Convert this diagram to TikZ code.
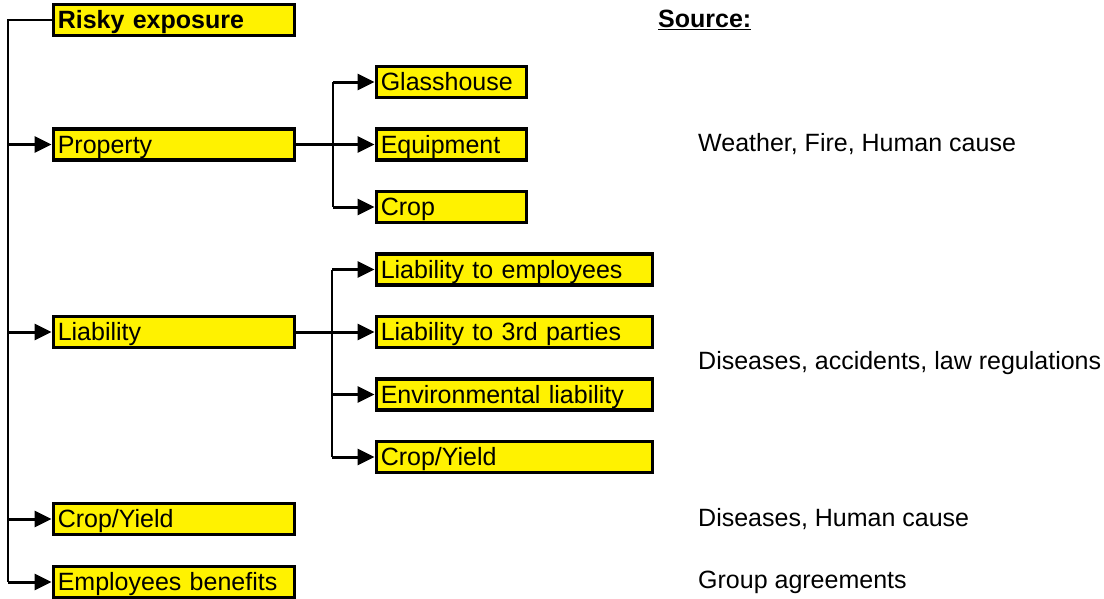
\documentclass[tikz,border=0pt]{standalone}
\usepackage{fontspec}
\setmainfont{Liberation Sans}
\usetikzlibrary{arrows.meta}
\begin{document}
\begin{tikzpicture}[x=1pt,y=-1pt,
  font=\fontsize{25}{30}\selectfont,
  box/.style={draw=black, fill=yellow, line width=3.5pt, minimum height=31pt,
    inner xsep=4.5pt, inner ysep=0pt, align=left, anchor=west,
    text height=20pt, text depth=3pt},
  bw/.style={text width=232pt},
  sw/.style={text width=141pt},
  lw/.style={text width=267pt},
  arr/.style={line width=3pt, -{Triangle[length=17pt,width=16pt]}},
  trunk/.style={line width=2pt},
  hbar/.style={line width=3pt},
  src/.style={anchor=west, inner sep=0pt}]
\useasboundingbox (0,0) rectangle (1104,598);
% main column
\node[box,bw,font=\fontsize{25}{30}\selectfont\bfseries] (risk) at (51.5,20) {Risky exposure};
\node[box,bw] (prop) at (51.5,144.5) {Property};
\node[box,bw] (liab) at (51.5,332) {Liability};
\node[box,bw] (cropy) at (51.5,519) {Crop/Yield};
\node[box,bw] (emp) at (51.5,582) {Employees benefits};
% property branch
\node[box,sw] (glass) at (374.5,82) {Glasshouse};
\node[box,sw] (equip) at (374.5,144.5) {Equipment};
\node[box,sw] (crop) at (374.5,207) {Crop};
% liability branch
\node[box,lw] (lte) at (374.5,269.5) {Liability to employees};
\node[box,lw] (lt3) at (374.5,332) {Liability to 3rd parties};
\node[box,lw] (env) at (374.5,394.5) {Environmental liability};
\node[box,lw] (cy2) at (374.5,457) {Crop/Yield};
% sources
\node[src,font=\fontsize{25}{30}\selectfont\bfseries] (srchead) at (658,20) {\underline{Source:}};
\node[src] (s1) at (698,144.5) {Weather, Fire, Human cause};
\node[src] (s2) at (698,363) {Diseases, accidents, law regulations};
\node[src] (s3) at (698,519) {Diseases, Human cause};
\node[src] (s4) at (698,582) {Group agreements};
% trunk
\coordinate (ttop) at (8,20);
\coordinate (tbot) at (8,582);
\draw[trunk] (risk.west) -- (ttop) -- (tbot);
\foreach \n in {prop,liab,cropy,emp}
  \draw[arr] (\n.west -| ttop) -- (\n.west);
% property sub-branch
\coordinate (pj) at (333,144.5);
\draw[trunk] (glass.west -| pj) -- (crop.west -| pj);
\draw[hbar] (prop.east) -- (pj);
\foreach \n in {glass,equip,crop}
  \draw[arr] (\n.west -| pj) -- (\n.west);
% liability sub-branch
\coordinate (lj) at (332,332);
\draw[trunk] (lte.west -| lj) -- (cy2.west -| lj);
\draw[hbar] (liab.east) -- (lj);
\foreach \n in {lte,lt3,env,cy2}
  \draw[arr] (\n.west -| lj) -- (\n.west);
\end{tikzpicture}
\end{document}
